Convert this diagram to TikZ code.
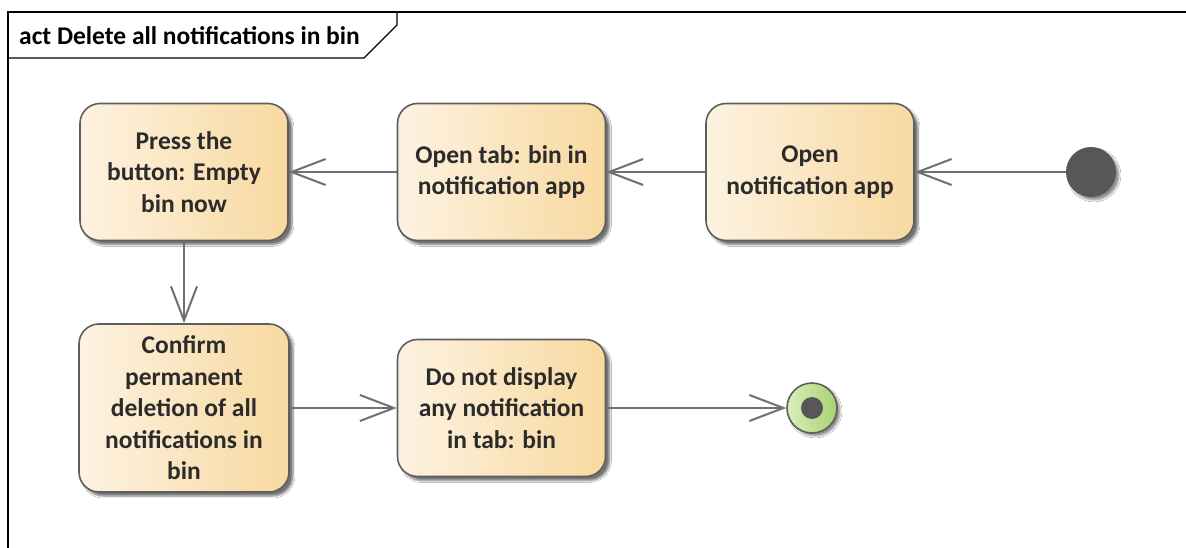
\documentclass[tikz,border=0pt]{standalone}
\usepackage{fontspec}
\setmainfont{Carlito}
\usetikzlibrary{arrows.meta,shadows.blur}
\definecolor{actL}{HTML}{FDF2E1}
\definecolor{actR}{HTML}{F8D9A0}
\definecolor{bordc}{HTML}{5E5E5E}
\definecolor{lineg}{HTML}{707070}
\definecolor{txtc}{HTML}{2B2B2B}
\definecolor{greenL}{HTML}{DAEEBC}
\definecolor{greenR}{HTML}{A6D36E}
\definecolor{darkg}{HTML}{575757}
\begin{document}
\begin{tikzpicture}[x=1pt,y=-1pt,
  act/.style={draw=bordc, line width=1.6pt, rounded corners=20pt,
    minimum width=208pt, minimum height=137pt, inner sep=0pt,
    left color=actL, right color=actR, align=center, text=txtc,
    font=\bfseries\fontsize{25.5}{31.5}\selectfont,
    blur shadow={shadow xshift=4pt, shadow yshift=-4pt, shadow blur steps=6, shadow opacity=55}},
  startst/.style={circle, fill=darkg, minimum size=50pt, inner sep=0pt,
    blur shadow={shadow xshift=3pt, shadow yshift=-3pt, shadow blur steps=5, shadow opacity=45}},
  endst/.style={circle, draw=bordc, line width=1.6pt, minimum size=50pt, inner sep=0pt,
    left color=greenL, right color=greenR,
    blur shadow={shadow xshift=3pt, shadow yshift=-3pt, shadow blur steps=5, shadow opacity=45},
    path picture={\fill[darkg] (path picture bounding box.center) circle (11pt);}},
  flow/.style={draw=lineg, line width=2pt,
    -{Straight Barb[length=34pt,width=26pt,line width=2pt]}},
  framel/.style={draw=black, line width=1.4pt}]
\useasboundingbox[fill=white] (0,0) rectangle (1186,548);
% frame
\draw[framel] (8,548) -- (8,12) -- (1186,12);
\draw[framel] (8,58) -- (364,58) -- (397,25) -- (397,12);
\node[anchor=west, text=black, font=\bfseries\fontsize{25.5}{30}\selectfont, inner sep=0pt] (title) at (19,36) {act Delete all notifications in bin};
% nodes
\node[act] (press) at (184,172) {Press the\\button: Empty\\bin now};
\node[act] (tab) at (501.5,172) {Open tab: bin in\\notification app};
\node[act] (open) at (810,172) {Open\\notification app};
\node[startst] (start) at (1091,172) {};
\node[act, minimum width=210pt, minimum height=168pt] (confirm) at (184,408) {Confirm\\permanent\\deletion of all\\notifications in\\bin};
\node[act] (disp) at (501.5,408) {Do not display\\any notification\\in tab: bin};
\node[endst] (end) at (812,408) {};
% connectors
\draw[flow] (start) -- (open);
\draw[flow] (open) -- (tab);
\draw[flow] (tab) -- (press);
\draw[flow] (press) -- (confirm);
\draw[flow] (confirm) -- (disp);
\draw[flow] (disp) -- (end);
\end{tikzpicture}
\end{document}
